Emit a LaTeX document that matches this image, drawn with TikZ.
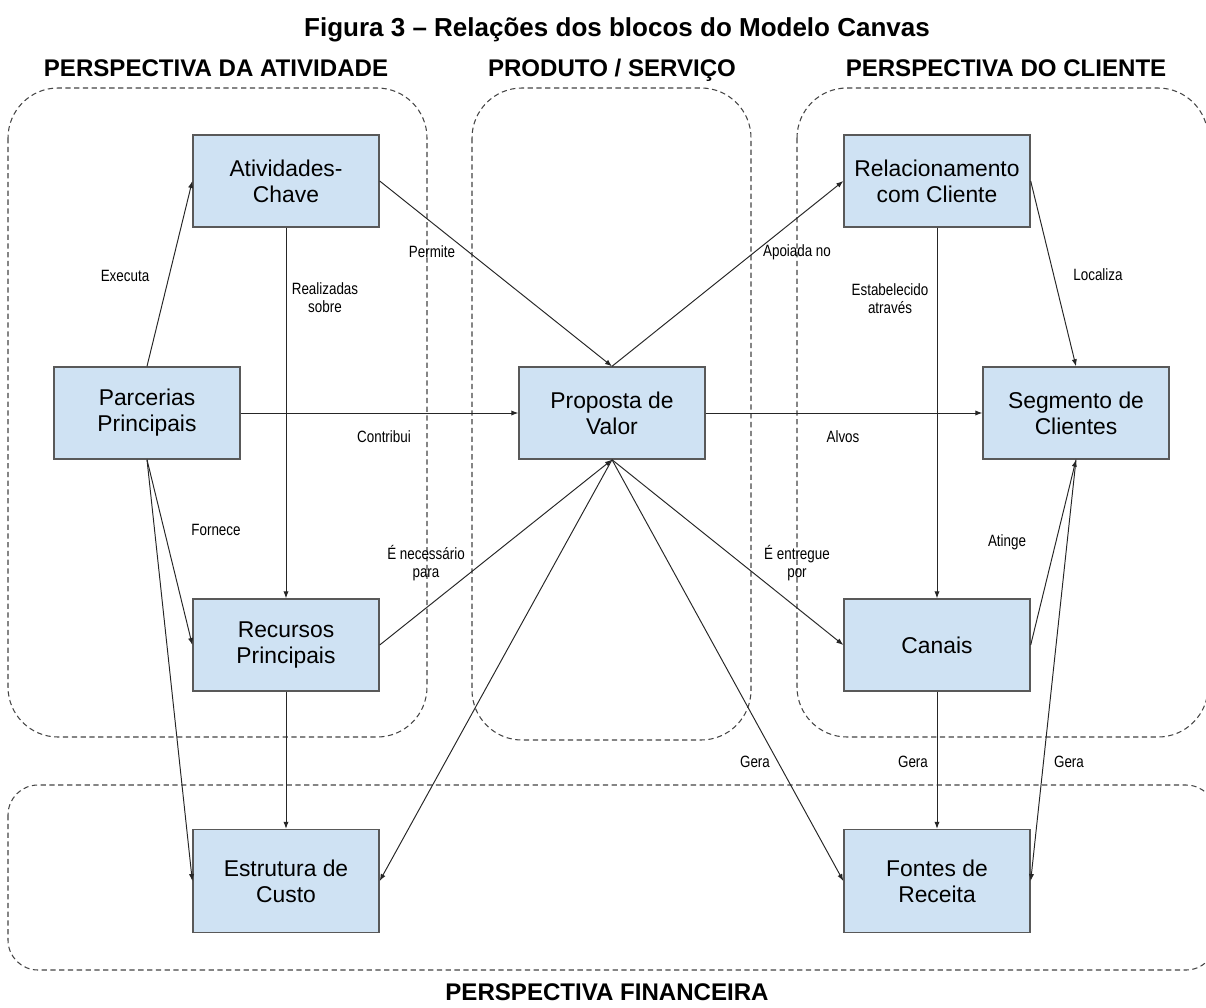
\documentclass[tikz,border=0pt]{standalone}
\usepackage{fontspec}
\setmainfont{Liberation Sans}
\newfontfamily\narrowfont[FakeStretch=0.82]{Liberation Sans}
\usetikzlibrary{arrows.meta, positioning}
\definecolor{cvblue}{HTML}{CFE2F3}
\definecolor{cvedge}{HTML}{595959}
\definecolor{cvdash}{HTML}{444444}

\begin{document}
\begin{tikzpicture}[
      x=0.02cm, y=-0.02cm,
      box/.style={rectangle, draw=cvedge, line width=0.8pt, fill=cvblue,
        minimum width=3.72cm, minimum height=1.84cm, align=center,
        font=\fontsize{13}{14.8}\selectfont},
      tallbox/.style={box, minimum height=2.06cm},
      zone/.style={draw=cvdash, dash pattern=on 3pt off 2pt, line width=0.6pt,
        rounded corners=1cm},
      arrow/.style={-{Latex[length=4pt,width=3pt]}, line width=0.55pt, black!85},
      lbl/.style={align=center, font=\narrowfont\fontsize{9.3}{10.3}\selectfont},
      head/.style={anchor=base, font=\bfseries\fontsize{13.7}{16}\selectfont}
    ]
      \useasboundingbox (0,0) rectangle (1206,1007);

      % Title and perspectives
      \node[anchor=base, font=\bfseries\fontsize{14.8}{17}\selectfont] (title) at (617,37)
        {Figura 3 – Relações dos blocos do Modelo Canvas};
      \node[head] (hativ) at (216,77) {PERSPECTIVA DA ATIVIDADE};
      \node[head] (hprod) at (612,77) {PRODUTO / SERVIÇO};
      \node[head] (hcli) at (1006,77) {PERSPECTIVA DO CLIENTE};
      \node[head] (hfin) at (607,1000) {PERSPECTIVA FINANCEIRA};

      % Dashed zones
      \draw[zone] (8,88) rectangle (427,737);
      \draw[zone] (472,88) rectangle (751,740);
      \draw[zone] (797,88) rectangle (1208,737);
      \draw[zone, rounded corners=0.6cm] (8,785) rectangle (1216,970);

      % Blocks
      \node[box] (atv) at (286,181) {Atividades-\\Chave};
      \node[box] (parc) at (147,413) {Parcerias\\Principais};
      \node[box] (rec) at (286,645) {Recursos\\Principais};
      \node[tallbox] (est) at (286,881) {Estrutura de\\Custo};
      \node[box] (prop) at (612,413) {Proposta de\\Valor};
      \node[box] (rel) at (937,181) {Relacionamento\\com Cliente};
      \node[box] (seg) at (1076,413) {Segmento de\\Clientes};
      \node[box] (can) at (937,645) {Canais};
      \node[tallbox] (fontes) at (937,881) {Fontes de\\Receita};

      % Connections
      \draw[arrow] (parc.north) -- (atv.west);
      \draw[arrow] (parc.south) -- (rec.west);
      \draw[arrow] (parc.south) -- (est.west);
      \draw[arrow] (parc.east) -- (prop.west);
      \draw[arrow] (atv.south) -- (rec.north);
      \draw[arrow] (atv.east) -- (prop.north);
      \draw[arrow] (rec.east) -- (prop.south);
      \draw[arrow] (rec.south) -- (est.north);
      \draw[arrow] (prop.south) -- (est.east);
      \draw[arrow] (prop.north) -- (rel.west);
      \draw[arrow] (prop.east) -- (seg.west);
      \draw[arrow] (prop.south) -- (can.west);
      \draw[arrow] (prop.south) -- (fontes.west);
      \draw[arrow] (rel.south) -- (can.north);
      \draw[arrow] (rel.east) -- (seg.north);
      \draw[arrow] (can.east) -- (seg.south);
      \draw[arrow] (can.south) -- (fontes.north);
      \draw[arrow] (seg.south) -- (fontes.east);

      % Labels for arrows
      \node[lbl] (lexec) at (125,276) {Executa};
      \node[lbl] (lreal) at (325,298) {Realizadas\\sobre};
      \node[lbl] (lperm) at (432,252) {Permite};
      \node[lbl] (lcontr) at (384,437) {Contribui};
      \node[lbl] (lforn) at (216,530) {Fornece};
      \node[lbl] (lnec) at (426,563) {É necessário\\para};
      \node[lbl] (lapoi) at (797,252) {Apoiada no};
      \node[lbl] (lestab) at (890,299) {Estabelecido\\através};
      \node[lbl] (lloc) at (1098,275) {Localiza};
      \node[lbl] (lalvos) at (843,437) {Alvos};
      \node[lbl] (lentr) at (797,563) {É entregue\\por};
      \node[lbl] (lating) at (1007,542) {Atinge};
      \node[lbl] (lgeraa) at (755,762) {Gera};
      \node[lbl] (lgerab) at (913,762) {Gera};
      \node[lbl] (lgerac) at (1069,762) {Gera};
    \end{tikzpicture}
\end{document}
